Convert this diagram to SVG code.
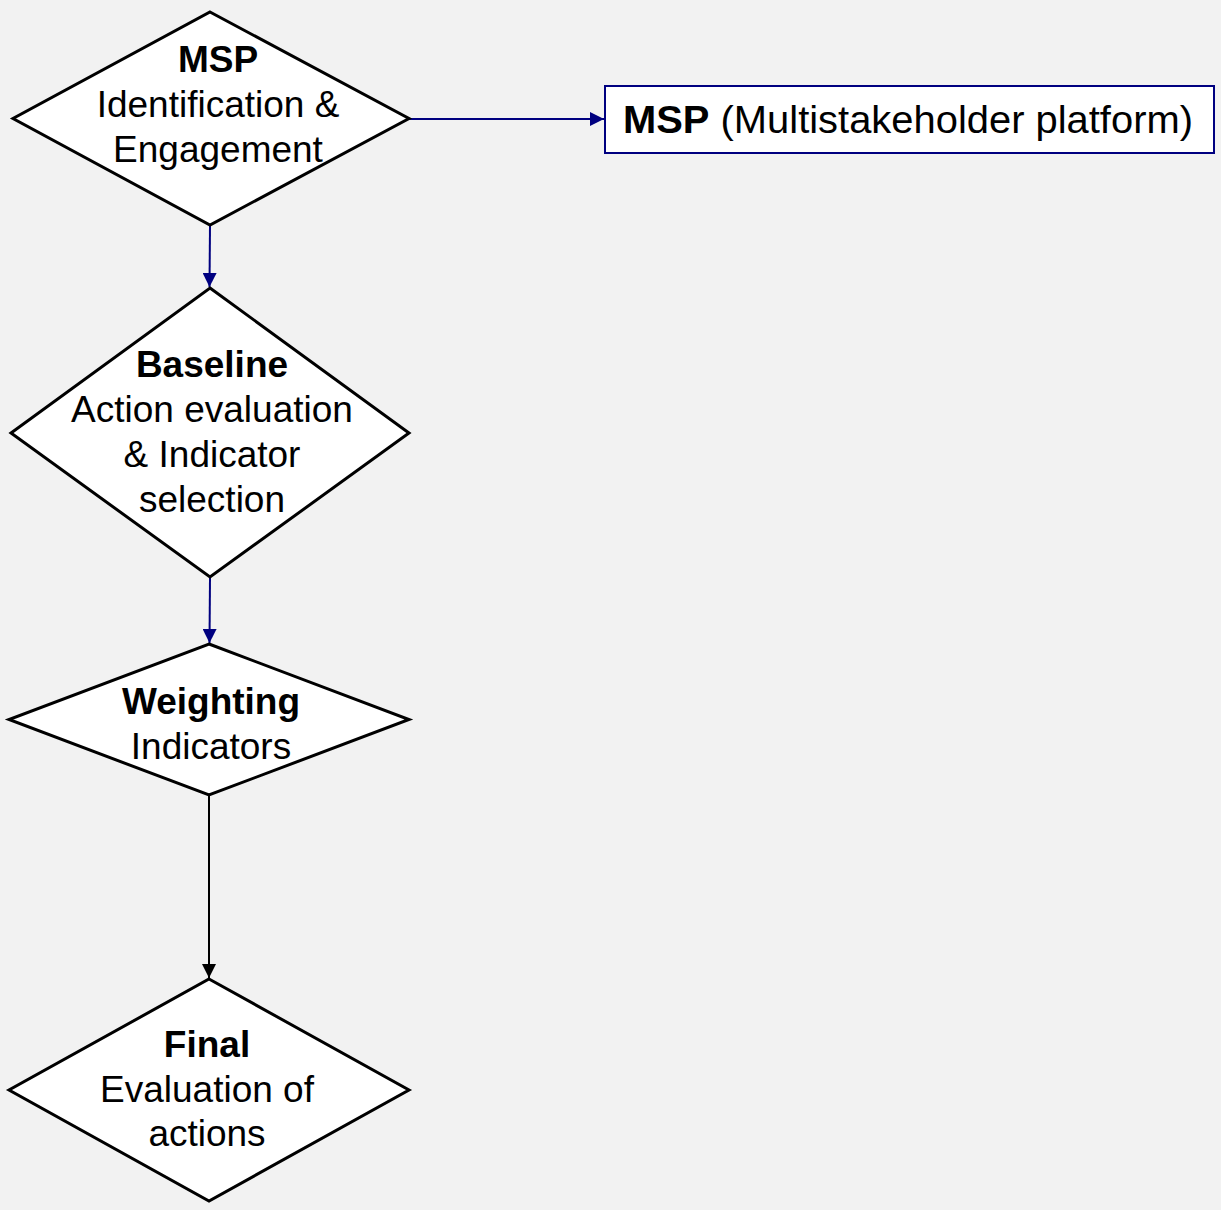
<svg xmlns="http://www.w3.org/2000/svg" width="1221" height="1210" viewBox="0 0 1221 1210">
<style>
.d{fill:#fff;stroke:#000;stroke-width:3;stroke-linejoin:miter}
.t{font-family:"Liberation Sans",Arial,sans-serif;font-size:37px;fill:#000;text-anchor:middle}
.b{font-weight:bold}
.c{fill:none;stroke-width:2}
</style>
<defs>
<marker id="an" viewBox="0 0 10 10" refX="10" refY="5" markerWidth="14" markerHeight="14" markerUnits="userSpaceOnUse" orient="auto"><path d="M0,0L10,5L0,10z" fill="#000080"/></marker>
<marker id="ak" viewBox="0 0 10 10" refX="10" refY="5" markerWidth="14" markerHeight="14" markerUnits="userSpaceOnUse" orient="auto"><path d="M0,0L10,5L0,10z" fill="#000"/></marker>
</defs>
<rect width="1221" height="1210" fill="#f2f2f2"/>
<g id="connectors">
<line class="c" x1="210" y1="226" x2="209.5" y2="287" stroke="#000080" marker-end="url(#an)"/>
<line class="c" x1="210" y1="578" x2="209.5" y2="643" stroke="#000080" marker-end="url(#an)"/>
<line class="c" x1="409" y1="119" x2="604" y2="119" stroke="#000080" marker-end="url(#an)"/>
<line class="c" x1="209" y1="796" x2="209" y2="978" stroke="#000" marker-end="url(#ak)"/>
</g>
<g id="n1">
<polygon class="d" points="210,12 409,118.5 210,225 13,118.5"/>
<text class="t b" x="218" y="72">MSP</text>
<text class="t" x="218" y="117">Identification &amp;</text>
<text class="t" x="218" y="162">Engagement</text>
</g>
<g id="n2">
<polygon class="d" points="210,288 409,433 210,577 11,433"/>
<text class="t b" x="212" y="377">Baseline</text>
<text class="t" x="212" y="422">Action evaluation</text>
<text class="t" x="212" y="467">&amp; Indicator</text>
<text class="t" x="212" y="512">selection</text>
</g>
<g id="n3">
<polygon class="d" points="209,644 409,719.5 209,795 9,719.5"/>
<text class="t b" x="211" y="714">Weighting</text>
<text class="t" x="211" y="759">Indicators</text>
</g>
<g id="n4">
<polygon class="d" points="209,979 409,1090 209,1201 9,1090"/>
<text class="t b" x="207" y="1057">Final</text>
<text class="t" x="207" y="1102">Evaluation of</text>
<text class="t" x="207" y="1146">actions</text>
</g>
<g id="n5">
<rect x="605" y="86" width="609" height="67" fill="#fff" stroke="#000080" stroke-width="2"/>
<text x="623" y="133" font-family="'Liberation Sans',Arial,sans-serif" font-size="38" textLength="570" lengthAdjust="spacingAndGlyphs"><tspan font-weight="bold">MSP</tspan> (Multistakeholder platform)</text>
</g>
</svg>
